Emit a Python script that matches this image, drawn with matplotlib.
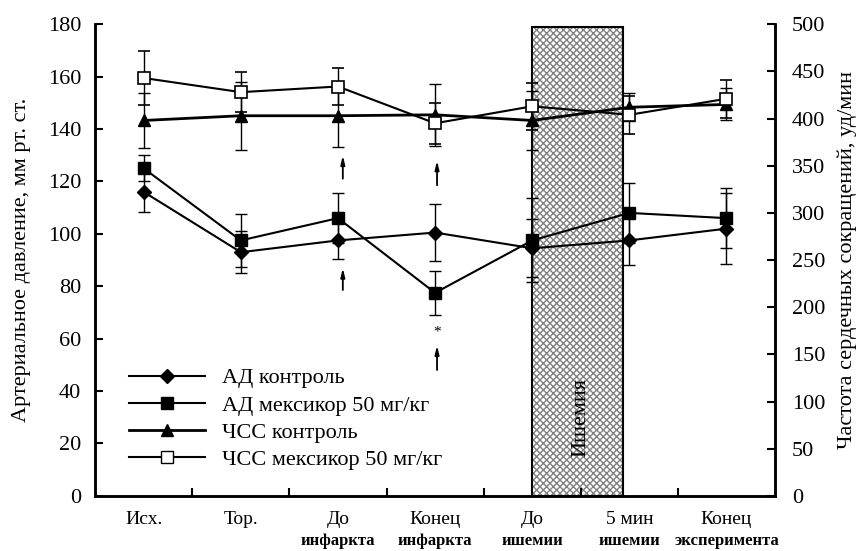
import matplotlib
matplotlib.use("Agg")
import matplotlib.pyplot as plt
import matplotlib.transforms as mtransforms
from matplotlib.patches import Rectangle
from matplotlib.lines import Line2D

plt.rcParams['font.family'] = ['Liberation Serif', 'DejaVu Serif']

# подписи точек
cats_top = ["Исх.", "Тор.", "До", "Конец", "До", "5 мин", "Конец"]
cats_bottom = ["", "", "инфаркта", "инфаркта", "ишемии", "ишемии", "эксперимента"]

# АД, мм рт. ст.
ad_control = [116, 93, 97.5, 100.5, 94.5, 97.5, 102]
ad_control_err = [7.5, 8, 7, 11, 11, 9.5, 13.5]
ad_mex = [125, 97.5, 106, 77.5, 97.5, 108, 106]
ad_mex_err = [5, 10, 9.5, 8.5, 16, 11.5, 11.5]

# ЧСС, уд/мин
hr_control = [398, 403, 403, 404, 398, 412, 415]
hr_control_err = [29, 36, 33, 33, 31, 15, 17]
hr_mex = [443, 428, 434, 395, 413, 404, 421]
hr_mex_err = [29, 21, 20, 22, 25, 20, 20]

x = list(range(len(cats_top)))

fig = plt.figure(figsize=(8.65, 5.51), dpi=100)
ax = fig.add_axes([0.110, 0.100, 0.786, 0.856])
ax2 = ax.twinx()

# ишемия
ax.add_patch(Rectangle((4.0, 0), 0.93, 179, facecolor='white', edgecolor='0.5',
                       hatch='xxxxx', lw=0, zorder=1))
ax.add_patch(Rectangle((4.0, 0), 0.93, 179, fill=False, edgecolor='black', lw=1.5, zorder=2))
ax.text(4.5, 30, "Ишемия", rotation=90, ha='center', va='center', fontsize=16, zorder=3)

ekw = dict(ecolor='black', elinewidth=1, capsize=4, capthick=1)
ax.errorbar(x, ad_control, yerr=ad_control_err, color='black', lw=1.5, marker='D',
            ms=7, mfc='black', mec='black', zorder=5, **ekw)
ax.errorbar(x, ad_mex, yerr=ad_mex_err, color='black', lw=1.5, marker='s',
            ms=8, mfc='black', mec='black', zorder=5, **ekw)
ax2.errorbar(x, hr_control, yerr=hr_control_err, color='black', lw=2, marker='^',
             ms=8, mfc='black', mec='black', zorder=5, **ekw)
ax2.errorbar(x, hr_mex, yerr=hr_mex_err, color='black', lw=1.5, marker='s',
             ms=9, mfc='white', mec='black', mew=1.2, zorder=6, **ekw)

# стрелки и звёздочка
akw = dict(arrowstyle='-|>,head_length=0.5,head_width=0.12', color='black', lw=1.3)
for xa, y0, y1 in [(2.05, 120, 131), (2.05, 77.5, 88), (3.02, 117.5, 129), (3.02, 47, 58.5)]:
    ax.annotate("", xy=(xa, y1), xytext=(xa, y0), arrowprops=akw, zorder=7)
ax.text(3.02, 62.5, "*", ha='center', va='center', fontsize=11)

ax.set_xlim(-0.5, 6.5)
ax.set_ylim(0, 180)
ax2.set_ylim(0, 500)
ax.set_yticks(range(0, 181, 20))
ax2.set_yticks(range(0, 501, 50))
ax.set_xticks(x)
ax.set_xticklabels([])
ax.set_xticks([i + 0.5 for i in x[:-1]], minor=True)
ax.tick_params(axis='x', which='major', length=0)
ax.tick_params(axis='x', which='minor', direction='in', length=6, width=1.5)
ax.tick_params(axis='y', direction='in', length=6, width=1.5, labelsize=16, pad=10)
ax2.tick_params(axis='y', direction='in', length=6, width=1.5, labelsize=16, pad=12)
for a in (ax, ax2):
    for s in a.spines.values():
        s.set_linewidth(1.8)
ax.spines['top'].set_visible(False)
ax2.spines['top'].set_visible(False)

trans = mtransforms.blended_transform_factory(ax.transData, fig.transFigure)
for i in x:
    ax.text(i, 0.058, cats_top[i], transform=trans, ha='center', va='center', fontsize=14)
    if cats_bottom[i]:
        ax.text(i, 0.004, cats_bottom[i], transform=trans, ha='center', va='bottom',
                fontsize=12, fontweight='bold')

ax.set_ylabel("Артериальное давление, мм рт. ст.", fontsize=16)
ax2.set_ylabel("Частота сердечных сокращений, уд/мин", fontsize=16)
ax.yaxis.set_label_coords(-0.095, 0.5)
ax2.yaxis.set_label_coords(1.092, 0.5)

handles = [
    Line2D([], [], color='black', lw=1.5, marker='D', ms=7, mfc='black'),
    Line2D([], [], color='black', lw=1.5, marker='s', ms=8, mfc='black'),
    Line2D([], [], color='black', lw=2, marker='^', ms=8, mfc='black'),
    Line2D([], [], color='black', lw=1.5, marker='s', ms=9, mfc='white', mec='black'),
]
labels = ["АД контроль", "АД мексикор 50 мг/кг", "ЧСС контроль", "ЧСС мексикор 50 мг/кг"]
leg = ax.legend(handles, labels, loc='center left', bbox_to_anchor=(0.05, 0.163),
                frameon=False, fontsize=16, handlelength=3.4, handletextpad=0.8,
                labelspacing=0.3, borderpad=0, borderaxespad=0)
leg.set_zorder(10)

fig.savefig("out.png", dpi=100)
